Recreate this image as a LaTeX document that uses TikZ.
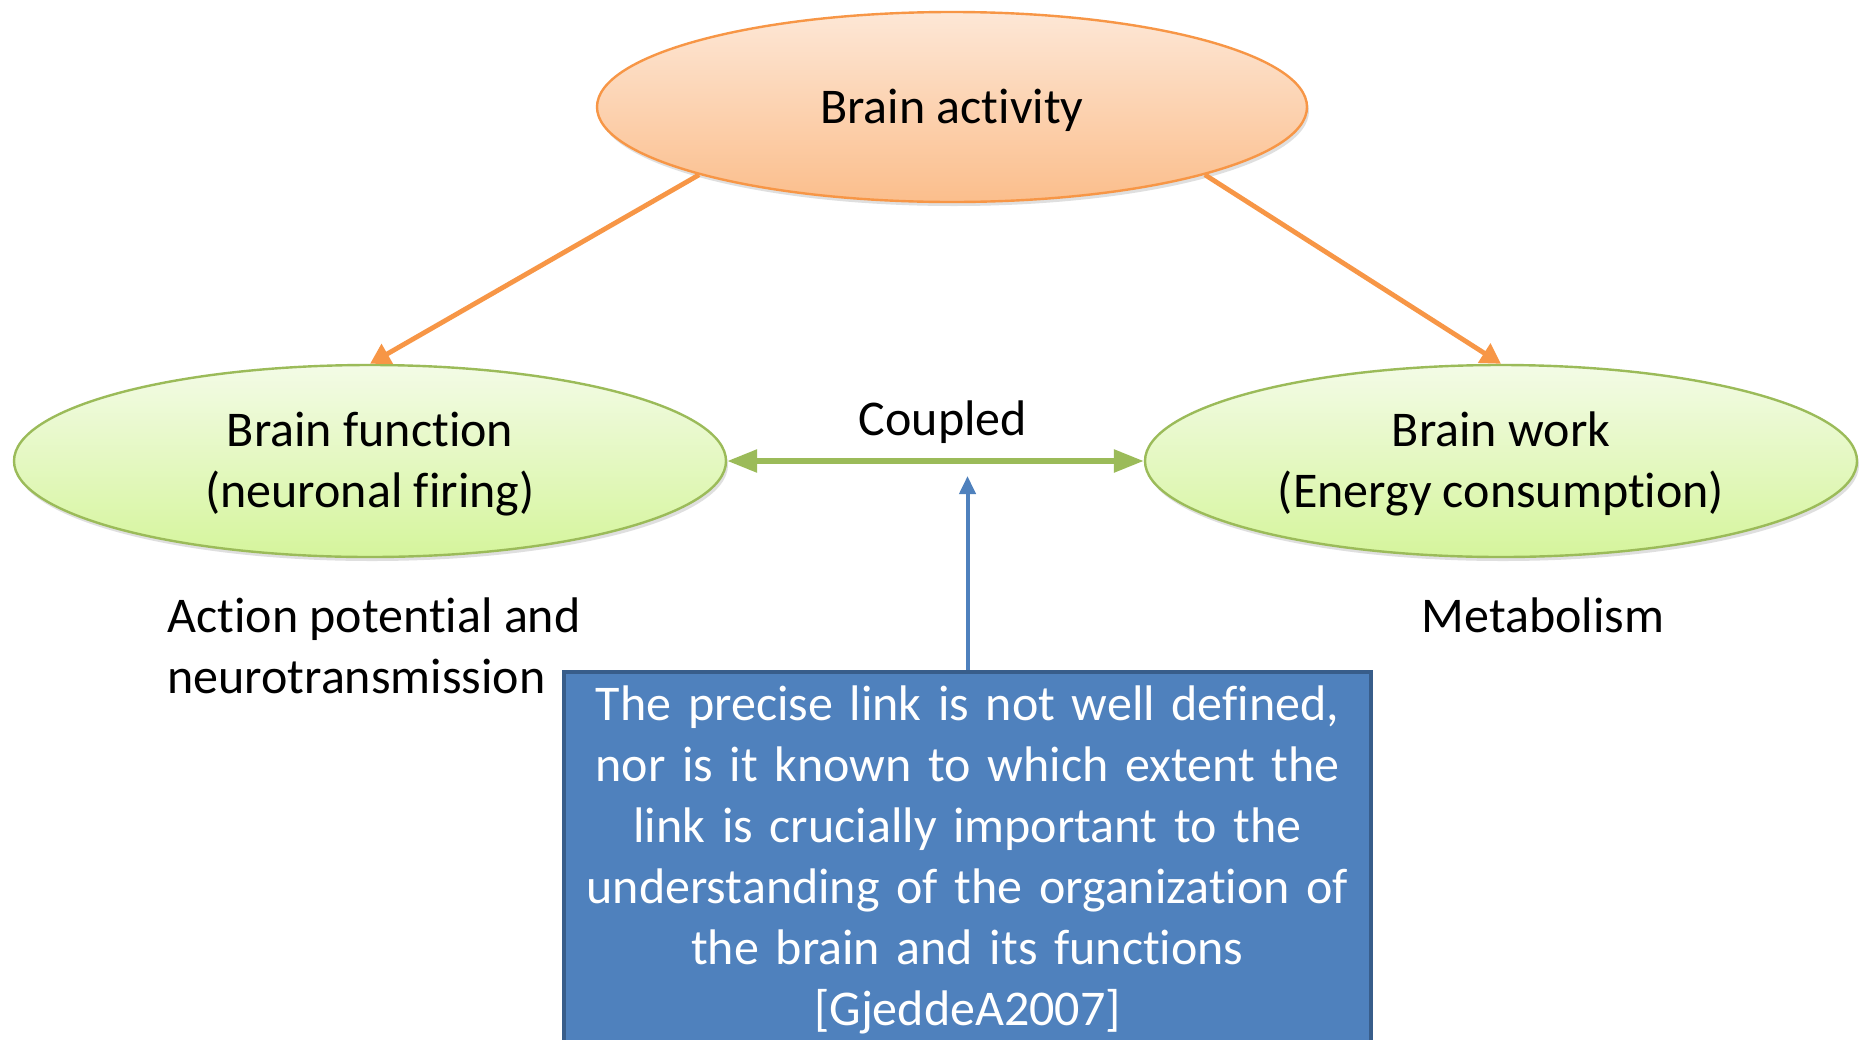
\documentclass[tikz,border=0pt]{standalone}
\usepackage{fontspec}
\setmainfont{Carlito}[Ligatures={NoCommon,NoContextual}, RawFeature=-calt]
\usetikzlibrary{shapes.geometric,arrows.meta,shadows}
\newcommand\nlk{\kern0pt }
\definecolor{orng}{HTML}{F79646}
\definecolor{orngtop}{HTML}{FDE7D6}
\definecolor{orngbot}{HTML}{FBBE8C}
\definecolor{grn}{HTML}{9BBB59}
\definecolor{grntop}{HTML}{F3FBE6}
\definecolor{grnbot}{HTML}{D5F59C}
\definecolor{blu}{HTML}{4F81BD}
\definecolor{bluedge}{HTML}{385D8A}
\tikzset{
  txt/.style={font=\fontsize{25}{30.5}\selectfont, align=center, inner sep=0pt},
  orangeell/.style={ellipse, draw=orng, line width=1.2pt, top color=orngtop, bottom color=orngbot,
    minimum width=355pt, minimum height=95pt, inner sep=0pt,
    drop shadow={shadow xshift=1pt, shadow yshift=-2pt, opacity=0.25}},
  greenell/.style={ellipse, draw=grn, line width=1.2pt, top color=grntop, bottom color=grnbot,
    minimum width=356pt, minimum height=96pt, inner sep=0pt,
    drop shadow={shadow xshift=1pt, shadow yshift=-2pt, opacity=0.25}},
  ltxt/.style={txt, yshift=-1.6pt},
  orangearrow/.style={draw=orng, line width=2.4pt, -{Triangle[length=10pt,width=11pt]}},
  greenarrow/.style={draw=grn, line width=2.8pt, {Triangle[length=15pt,width=11pt]}-{Triangle[length=15pt,width=11pt]}},
  bluearrow/.style={draw=blu, line width=2pt, -{Triangle[length=9pt,width=8pt]}},
  notebox/.style={rectangle, draw=bluedge, line width=2pt, fill=blu, text=white,
    minimum width=403.5pt, text width=395pt, txt, inner xsep=4pt, inner ysep=7pt}
}
\begin{document}
\begin{tikzpicture}[x=0.5pt, y=-0.5pt]
\clip (0,0) rectangle (1866,1039);
\fill[white] (0,0) rectangle (1866,1039);
\node[orangeell, label={[ltxt]center:Brain activ\nlk ity}] (act) at (952,107) {};
\node[greenell, label={[ltxt]center:Brain funct\nlk ion\\(neuronal firing)}] (fun) at (370,461) {};
\node[greenell, label={[ltxt]center:Brain work\\(Energy consumpt\nlk ion)}] (work) at (1501,461) {};
\node[txt] (coupled) at (943,422) {Coupled};
\node[txt, align=left, anchor=west] (ap) at (167,646) {Action potent\nlk ial and\\neurotransmission};
\node[txt] (met) at (1543,615) {Metabolism};
\node[notebox, anchor=north] (note) at (967.5,670) {The precise link is not well defined,\\nor is it known to which extent the\\link is crucially important to the\\understanding of the organization of\\the brain and its funct\nlk ions\\{[GjeddeA2007]}};
\coordinate (tip) at (967.5,476);
\draw[orangearrow] (act.195) -- (fun.north);
\draw[orangearrow] (act.345) -- (work.north);
\draw[greenarrow] (fun.east) -- (work.west);
\draw[bluearrow] (note.north) -- (tip);
\end{tikzpicture}
\end{document}
